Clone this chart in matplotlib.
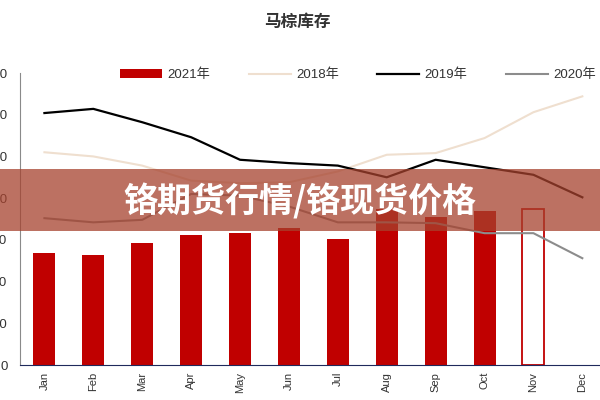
import matplotlib
matplotlib.use("Agg")
import matplotlib.pyplot as plt
from matplotlib.patches import Rectangle

plt.rcParams['font.family'] = ['Liberation Sans', 'Noto Sans CJK SC', 'DejaVu Sans']

# Malaysian palm oil stocks (10k tonnes)
months = ["Jan", "Feb", "Mar", "Apr", "May", "Jun", "Jul", "Aug", "Sep", "Oct", "Nov", "Dec"]
stock_2021 = [134, 132, 146, 156, 158, 164, 151, 187, 177, 185]
stock_2021_nov = 187  # hollow bar (estimate)
stock_2018 = [255, 250, 239, 221, 218, 219, 232, 252, 254, 272, 303, 322]
stock_2019 = [302, 307, 291, 273, 246, 242, 239, 225, 246, 237, 228, 201]
stock_2020 = [176, 171, 174, 205, 203, 190, 171, 171, 170, 158, 158, 128]
y_ticks = [0, 50, 100, 150, 200, 250, 300, 350]

title = "马棕库存"
banner_text = "铬期货行情/铬现货价格"

fig = plt.figure(figsize=(6, 4), dpi=100)
ax = fig.add_axes([0.0333, 0.0875, 0.978, 0.73])

x = list(range(len(months)))
b21 = ax.bar(x[:len(stock_2021)], stock_2021, width=0.45, color="#c00000", label="2021年", zorder=2)
ax.bar(x[10], stock_2021_nov, width=0.45, facecolor="white", edgecolor="#c00000", linewidth=1.3, zorder=2)
l18, = ax.plot(x, stock_2018, color="#efdfcf", lw=1.5, label="2018年", zorder=3)
l19, = ax.plot(x, stock_2019, color="black", lw=1.6, label="2019年", zorder=3)
l20, = ax.plot(x, stock_2020, color="#8c8c8c", lw=1.5, label="2020年", zorder=3)

ax.set_xlim(-0.5, 11.5)
ax.set_ylim(0, 350)
ax.set_yticks(y_ticks)
ax.set_xticks(x)
ax.set_xticklabels(months, rotation=90, fontsize=8, color="#333333")
ax.tick_params(axis="y", length=0, pad=9, labelsize=9.5, labelcolor="#333333")
ax.tick_params(axis="x", length=0, pad=5)

for s in ["top", "right"]:
    ax.spines[s].set_visible(False)
ax.spines["left"].set_color("#8a8a8a")
ax.spines["bottom"].set_color("#1f2a5c")

ax.legend(handles=[b21, l18, l19, l20], loc="center", bbox_to_anchor=(0.576, 0.993),
          ncol=4, frameon=False, fontsize=9.5, handlelength=3.2, columnspacing=2.9,
          handletextpad=0.4, labelcolor="#333333")

fig.text(0.495, 0.945, title, ha="center", va="center", fontsize=12,
         fontweight="bold", color="#333333", family=["Noto Sans CJK SC"])

# overlay banner
fig.patches.append(Rectangle((0, 1 - 231 / 400), 1, 62 / 400, transform=fig.transFigure,
                             facecolor=(0.65, 0.26, 0.18), alpha=0.75, edgecolor="none",
                             zorder=10))
fig.text(0.5, 1 - 201 / 400, banner_text, ha="center", va="center", fontsize=24.5,
         fontweight="bold", color="white", family=["Noto Sans CJK SC"], zorder=11)

fig.savefig("out.png", dpi=100)
